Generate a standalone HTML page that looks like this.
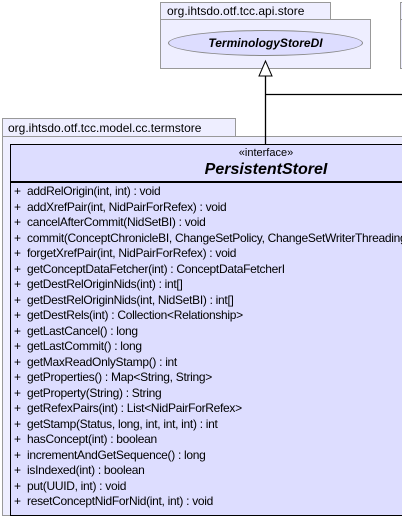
<!DOCTYPE html>
<html><head><style>
body{margin:0;width:402px;height:506px;overflow:hidden;background:#fff;position:relative;font-family:"Liberation Sans",sans-serif;}
div{position:absolute;box-sizing:border-box;}
.t{font-size:11px;color:#000;white-space:nowrap;}
</style></head><body>
<div style="left:160px;top:2px;width:171px;height:18px;background:#eeeeff;border:1px solid #999;"></div>
<div class="t" style="left:167px;top:4px;font-size:12px;">org.ihtsdo.otf.tcc.api.store</div>
<div style="left:160px;top:19px;width:211px;height:50px;background:#eeeeff;border:1px solid #999;"></div>
<div style="left:168px;top:30px;width:195px;height:26px;background:#ddddff;border:1px solid #888;border-radius:50%;"></div>
<div class="t" style="left:168px;top:36px;width:195px;text-align:center;font-weight:bold;font-style:italic;font-size:12px;">TerminologyStoreDI</div>
<div style="left:400px;top:2px;width:10px;height:67px;background:#eeeeff;border:1px solid #999;"></div>
<div style="left:400px;top:19px;width:10px;height:1px;background:#999;"></div>

<div style="left:2px;top:118px;width:234px;height:19px;background:#eeeeff;border:1px solid #999;"></div>
<div class="t" style="left:8px;top:121px;font-size:12px;">org.ihtsdo.otf.tcc.model.cc.termstore</div>
<div style="left:2px;top:136px;width:410px;height:380px;background:#eeeeff;border:1px solid #999;"></div>
<div style="left:10px;top:144px;width:402px;height:372px;background:#ddddff;border:1px solid #000;"></div>
<div class="t" style="left:10px;top:147px;width:512px;text-align:center;">«interface»</div>
<div class="t" style="left:10px;top:161px;width:512px;text-align:center;font-weight:bold;font-style:italic;font-size:16px;">PersistentStoreI</div>
<div style="left:10px;top:181px;width:400px;height:2px;background:#000;"></div>

<svg style="position:absolute;left:0;top:0" width="402" height="506">
<line x1="265.5" y1="76" x2="265.5" y2="144" stroke="#000" stroke-width="1.3"/>
<line x1="265" y1="94.5" x2="402" y2="94.5" stroke="#000" stroke-width="1.3"/>
<polygon points="265.5,61 259,76 272,76" fill="#fff" stroke="#000" stroke-width="1"/>
</svg>

<div class="t" style="left:14px;top:184px;line-height:15.5px;font-size:12px;">
+<br>+<br>+<br>+<br>+<br>+<br>+<br>+<br>+<br>+<br>+<br>+<br>+<br>+<br>+<br>+<br>+<br>+<br>+<br>+<br>+
</div>
<div class="t" style="left:27px;top:184px;line-height:15.5px;font-size:12px;letter-spacing:-0.3px;">
addRelOrigin(int, int) : void<br>
addXrefPair(int, NidPairForRefex) : void<br>
cancelAfterCommit(NidSetBI) : void<br>
commit(ConceptChronicleBI, ChangeSetPolicy, ChangeSetWriterThreading) : void<br>
forgetXrefPair(int, NidPairForRefex) : void<br>
getConceptDataFetcher(int) : ConceptDataFetcherI<br>
getDestRelOriginNids(int) : int[]<br>
getDestRelOriginNids(int, NidSetBI) : int[]<br>
getDestRels(int) : Collection&lt;Relationship&gt;<br>
getLastCancel() : long<br>
getLastCommit() : long<br>
getMaxReadOnlyStamp() : int<br>
getProperties() : Map&lt;String, String&gt;<br>
getProperty(String) : String<br>
getRefexPairs(int) : List&lt;NidPairForRefex&gt;<br>
getStamp(Status, long, int, int, int) : int<br>
hasConcept(int) : boolean<br>
incrementAndGetSequence() : long<br>
isIndexed(int) : boolean<br>
put(UUID, int) : void<br>
resetConceptNidForNid(int, int) : void
</div>
</body></html>
